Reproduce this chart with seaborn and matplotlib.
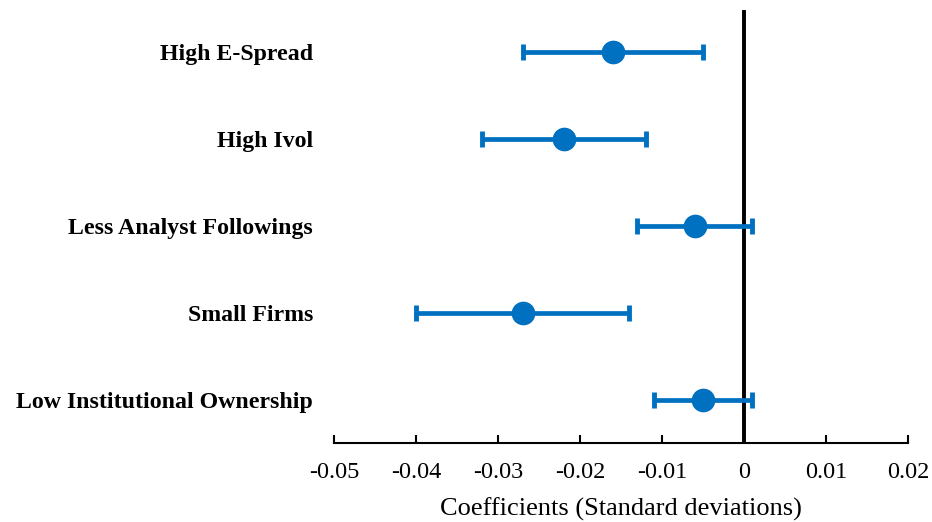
import numpy as np
import pandas as pd
import matplotlib
matplotlib.use("Agg")
import matplotlib.pyplot as plt
import seaborn as sns

# values
groups = ['High E-Spread', 'High Ivol', 'Less Analyst Followings',
          'Small Firms', 'Low Institutional Ownership']
coef = [-0.016, -0.022, -0.006, -0.027, -0.005]
lower = [-0.027, -0.032, -0.013, -0.040, -0.011]
upper = [-0.005, -0.012, 0.001, -0.014, 0.001]

df = pd.DataFrame({'group': groups, 'coef': coef, 'lower': lower, 'upper': upper})
df['pos'] = np.arange(len(df))

sns.set_style('white')
plt.rcParams['font.family'] = ['Liberation Serif', 'DejaVu Serif']
plt.rcParams['text.color'] = 'black'
plt.rcParams['axes.labelcolor'] = 'black'
plt.rcParams['xtick.color'] = 'black'
plt.rcParams['ytick.color'] = 'black'
plt.rcParams['xtick.direction'] = 'in'
plt.rcParams['xtick.bottom'] = True

blue = '#0070C0'
fig = plt.figure(figsize=(9.32, 5.22), dpi=100)
ax = fig.add_axes([0.3584, 0.1513, 0.6158, 0.8297])

ax.axvline(0, color='black', lw=2.8, zorder=1)
ax.errorbar(df['coef'], df['pos'],
            xerr=[df['coef'] - df['lower'], df['upper'] - df['coef']],
            fmt='none', ecolor=blue, elinewidth=3.4, capsize=6, capthick=3.5, zorder=2)
sns.scatterplot(data=df, x='coef', y='pos', color=blue, s=290, edgecolor=blue,
                linewidth=0, zorder=3, ax=ax)

ax.set_xlim(-0.05, 0.02)
ax.set_ylim(4.494, -0.483)
ax.set_xticks(np.arange(-0.05, 0.021, 0.01))
ax.set_xticklabels(['-0.05', '-0.04', '-0.03', '-0.02', '-0.01', '0', '0.01', '0.02'],
                   fontsize=17.5)
ax.set_yticks(df['pos'])
ax.set_yticklabels(df['group'], fontsize=17.2, fontweight='bold')
ax.tick_params(axis='x', bottom=True, direction='in', length=6, width=1.5,
               color='black', labelcolor='black', pad=14)
ax.tick_params(axis='y', left=False, length=0, pad=15, labelcolor='black')
for s in ['top', 'right', 'left']:
    ax.spines[s].set_visible(False)
ax.spines['bottom'].set_color('black')
ax.spines['bottom'].set_linewidth(1.5)
ax.set_xlabel('Coefficients (Standard deviations)', fontsize=19, labelpad=10,
              color='black')
ax.set_ylabel('')

fig.savefig('out.png', dpi=100)
